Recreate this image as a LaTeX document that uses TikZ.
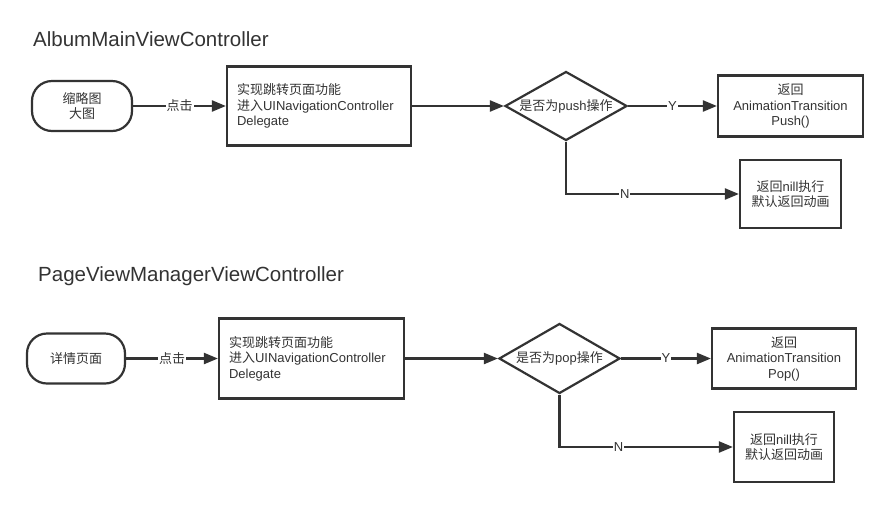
\documentclass[tikz,border=0pt]{standalone}
\usepackage{fontspec}
\setmainfont{Liberation Sans}
\newfontfamily\cjk{Noto Sans CJK SC}
\usetikzlibrary{shapes.geometric,arrows.meta}
\definecolor{ink}{HTML}{333333}
\tikzset{
  base/.style={draw=ink, line width=2.2pt, text=ink, inner sep=0pt, font=\fontsize{13}{15.5}\selectfont, align=center},
  term/.style={base, rounded corners=20pt},
  stepbox/.style={base},
  decision/.style={base, diamond, aspect=1.77},
  title/.style={text=ink, inner sep=0pt, anchor=base west, font=\fontsize{20.5}{24}\selectfont},
  conn/.style={draw=ink, line width=2.2pt, -{Triangle[length=14pt,width=11pt]}},
  lbl/.style={fill=white, text=ink, inner sep=1pt, font=\fontsize{13}{15}\selectfont}
}
\begin{document}
\begin{tikzpicture}[x=1pt,y=-1pt]
\useasboundingbox (0,0) rectangle (888,507);
\fill[white] (0,0) rectangle (888,507);

% Row 1
\node[title] (t1) at (33,46) {AlbumMainViewController};
\node[term, minimum width=100pt, minimum height=50pt] (s1) at (82,106) {{\cjk 缩略图}\\{\cjk 大图}};
\node[stepbox, minimum height=79pt, text width=164pt, inner xsep=10pt, align=left] (b1) at (319,106) {{\cjk 实现跳转页面功能}\\{\cjk 进入}UINavigationController\\Delegate};
\node[decision, minimum width=122pt, minimum height=69pt] (d1) at (566,106) {{\cjk 是否为}push{\cjk 操作}};
\node[stepbox, minimum width=145pt, minimum height=61pt] (p1) at (790.5,106) {{\cjk 返回}\\AnimationTransition\\Push()};
\node[stepbox, minimum width=101pt, minimum height=68pt] (n1) at (790.5,194) {{\cjk 返回}nill{\cjk 执行}\\{\cjk 默认返回动画}};

\draw[conn] (s1.east) -- node[lbl] {\cjk 点击} (b1.west);
\draw[conn] (b1.east) -- (d1.west);
\draw[conn] (d1.east) -- node[lbl] {Y} (p1.west);
\draw[conn] (d1.south) |- node[lbl, pos=0.67] {N} (n1.west);

% Row 2
\node[title] (t2) at (38,281) {PageViewManagerViewController};
\node[term, minimum width=98pt, minimum height=50pt] (s2) at (76,358.5) {\cjk 详情页面};
\node[stepbox, minimum height=80pt, text width=165pt, inner xsep=10pt, align=left] (b2) at (311.5,358.5) {{\cjk 实现跳转页面功能}\\{\cjk 进入}UINavigationController\\Delegate};
\node[decision, minimum width=121pt, minimum height=70pt] (d2) at (559.5,358.5) {{\cjk 是否为}pop{\cjk 操作}};
\node[stepbox, minimum width=144pt, minimum height=60pt] (p2) at (784,358.5) {{\cjk 返回}\\AnimationTransition\\Pop()};
\node[stepbox, minimum width=100pt, minimum height=70pt] (n2) at (784,447) {{\cjk 返回}nill{\cjk 执行}\\{\cjk 默认返回动画}};

\draw[conn] (s2.east) -- node[lbl] {\cjk 点击} (b2.west);
\draw[conn] (b2.east) -- (d2.west);
\draw[conn] (d2.east) -- node[lbl] {Y} (p2.west);
\draw[conn] (d2.south) |- node[lbl, pos=0.67] {N} (n2.west);
\end{tikzpicture}
\end{document}
